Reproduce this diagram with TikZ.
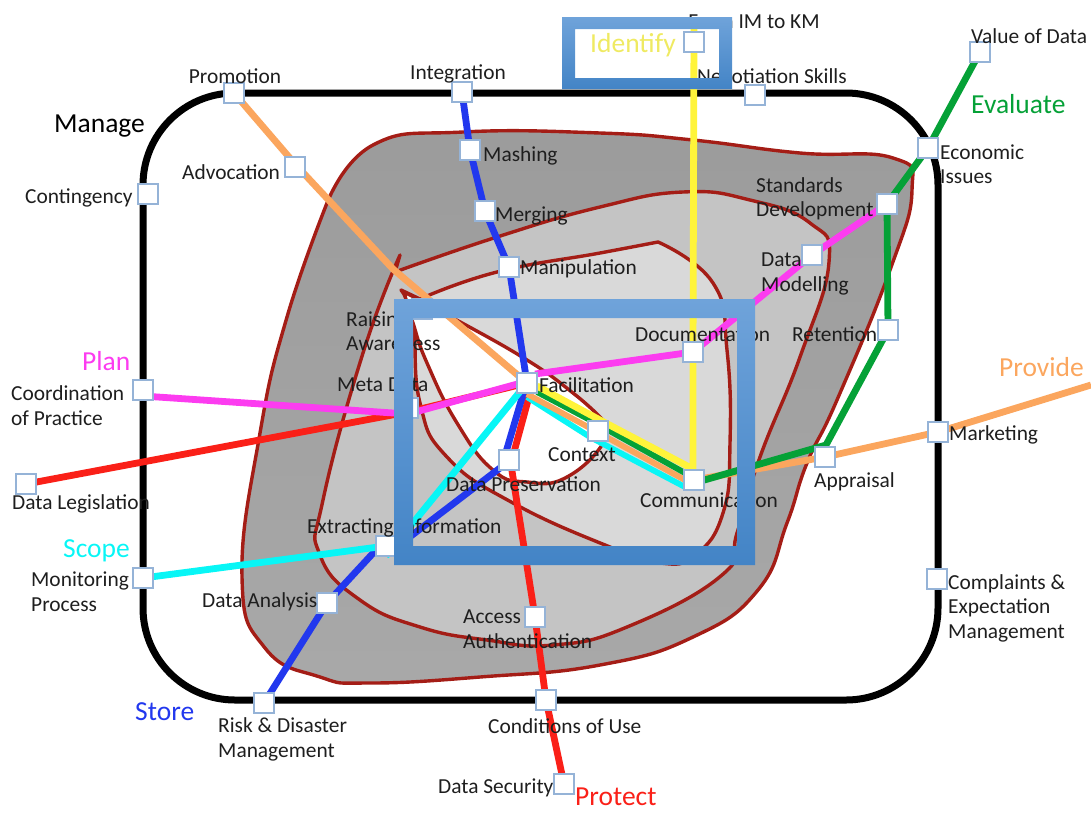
\documentclass[tikz,border=0pt]{standalone}
\usepackage{fontspec}
\setmainfont{Carlito}
\usetikzlibrary{calc}
\pgfdeclarelayer{back}
\pgfdeclarelayer{wires}
\pgfsetlayers{back,wires,main}
\definecolor{rim}{HTML}{A41D16}
\definecolor{sqb}{HTML}{95B3D7}
\definecolor{fa}{HTML}{6FA3DA}
\definecolor{fb}{HTML}{4384C6}
\definecolor{cor}{HTML}{FBA65E}
\definecolor{cye}{HTML}{FFF43A}
\definecolor{cid}{HTML}{EFEA62}
\definecolor{cgr}{HTML}{05A137}
\definecolor{cma}{HTML}{FC3CF0}
\definecolor{cre}{HTML}{FA2018}
\definecolor{cbl}{HTML}{2238EE}
\definecolor{ccy}{HTML}{08F6F6}
\definecolor{txt}{HTML}{1E1E1E}
\tikzset{
  sq/.style={draw=sqb,fill=white,line width=1.2pt,minimum size=20pt,inner sep=0pt,outer sep=0pt},
  lab/.style={anchor=west,inner sep=0pt,text=txt,font=\fontsize{21.4}{24.5}\selectfont,align=left},
  captxt/.style={anchor=west,inner sep=0pt,font=\fontsize{27.5}{30}\selectfont},
  region/.style={draw=rim,line width=3.4pt,line join=round},
  rc/.style={smooth,tension=.8},
  conn/.style={line width=6.8pt,line join=round},
  bundle/.style={line width=5.8pt,line join=round},
  frameb/.style={even odd rule,top color=fa,bottom color=fb,draw=none}
}
\begin{document}
\begin{tikzpicture}[x=1pt,y=-1pt]
\useasboundingbox (0,0) rectangle (1091,812);
\begin{pgfonlayer}{back}
\draw[region,top color=black!39,bottom color=black!34] plot[rc] coordinates {
 (327,203)(373,145)(463,132)(600,133)(693,140)(800,153)(893,158)(912,190)(890,270)(837,400)(807,463)(787,523)(758,590)(693,637)(600,665)(480,677)(370,683)(320,677)(265,648)(242,577)(260,433)(287,317)(327,203)} -- cycle;
\draw[region,fill=black!23] plot[rc] coordinates {
 (395,272)(497,237)(600,207)(683,192)(750,200)(810,223)(829,262)(800,357)(760,457)(737,533)(722,575)(627,627)(553,645)(487,640)(420,627)(360,600)(320,555)(323,500)(363,353)(400,255)} -- cycle;
\draw[region,fill=black!15] plot[rc] coordinates {(420,299)(497,272)(600,253)(658,242)} -- plot[rc] coordinates {(658,242)(713,283)(727,350)(730,443)(723,513)(695,555)(660,563)(610,547)(513,503)(447,457)(420,403)(413,323)(401,290)} -- cycle;
\draw[region,fill=white] plot[rc] coordinates {(404,292)(453,318)(527,360)(573,393)(600,417)} -- plot[rc] coordinates {(600,417)(605,440)(567,477)(527,482)(493,470)(457,423)(427,363)(413,323)(404,292)} -- cycle;
\node[draw=black,line width=7pt,rounded corners=92pt,minimum width=795pt,minimum height=607pt,inner sep=0pt] (box) at (540.5,396.5) {};
\end{pgfonlayer}
% squares
\node[sq] (prom) at (234,93) {};
\node[sq] (integ) at (462,92) {};
\node[sq] (nego) at (755,95) {};
\node[sq] (valu) at (980,52) {};
\node[sq] (econ) at (928,148) {};
\node[sq] (advo) at (295,167) {};
\node[sq] (mash) at (470,150) {};
\node[sq] (merg) at (485,211) {};
\node[sq] (mani) at (509,267) {};
\node[sq] (stan) at (887,204) {};
\node[sq] (dmod) at (812,255) {};
\node[sq] (rete) at (888,330) {};
\node[sq] (docu) at (693,352) {};
\node[sq] (rais) at (422,309) {};
\node[sq] (meta) at (408,408) {};
\node[sq] (faci) at (527,383) {};
\node[sq] (ctxt) at (598,431) {};
\node[sq] (comm) at (694,480) {};
\node[sq] (pres) at (509,460) {};
\node[sq] (extr) at (386,546) {};
\node[sq] (anal) at (327,603) {};
\node[sq] (risk) at (264,703) {};
\node[sq] (cond) at (546,700) {};
\node[sq] (secu) at (564,784) {};
\node[sq] (acce) at (535,617) {};
\node[sq] (appr) at (825,457) {};
\node[sq] (mark) at (938,432) {};
\node[sq] (comp) at (937,579) {};
\node[sq] (moni) at (143,578) {};
\node[sq] (legi) at (26,484) {};
\node[sq] (coor) at (143,390) {};
\node[sq] (cont) at (148,194) {};
\coordinate (idn) at (694,42);
\coordinate (obend) at (393,269);
\coordinate (oend) at (1091,385);
% connectors
\begin{pgfonlayer}{wires}
\draw[conn,cre] (legi.center) -- ([yshift=-4]meta.center) -- (faci.center);
\draw[conn,cre] ([shift={(3,10)}]faci.center) -- ([shift={(5,-8)}]pres.center);
\draw[conn,cre] ([yshift=8]pres.center) -- (acce.center) -- (cond.center) -- (secu.center);
\draw[conn,cma] ([yshift=-6]coor.center) -- ([yshift=-6]meta.center) -- ([shift={(-6,0)}]faci.center);
\draw[conn,cma] ([shift={(8,-9)}]faci.center) -- (docu.center) -- (dmod.center) -- (stan.center);
\draw[conn,cbl] (integ.center) -- (mash.center) -- (merg.center) -- (mani.center) -- (faci.center);
\draw[conn,cbl] ([shift={(-3,8)}]faci.center) -- ([shift={(-3,-8)}]pres.center);
\draw[conn,cbl] ([shift={(-9,8)}]pres.center) -- ([yshift=-9]extr.center);
\draw[conn,cbl] ([shift={(-10,4)}]extr.center) -- (anal.center) -- (risk.center);
\draw[conn,ccy] (moni.center) -- (extr.center);
\draw[conn,ccy] ([yshift=-10]extr.center) -- (faci.center);
\draw[bundle,ccy] ([shift={(0,14)}]faci.center) -- ([shift={(-8,6)}]ctxt.center) -- ([shift={(-9,7)}]comm.center);
\draw[conn,cor] (prom.center) -- ([yshift=3]advo.center) -- (obend) -- (faci.center);
\draw[bundle,cor] ([shift={(0,11)}]faci.center) -- ([shift={(-10,-4)}]ctxt.center) -- ([shift={(-9,0)}]comm.center);
\draw[conn,cor] (comm.center) -- (appr.center) -- (mark.center) -- (oend);
\draw[bundle,cgr] ([shift={(10,9)}]faci.center) -- ([shift={(-8,-11)}]ctxt.center) -- ([shift={(-9,-7)}]comm.center);
\draw[conn,cgr] (valu.center) -- (econ.center) -- (stan.center) -- (rete.center) -- ([shift={(1,-12)}]appr.center) -- ([yshift=-3]comm.center);
\draw[conn,cye] ([yshift=15]idn) -- (docu.center) -- ([shift={(-1,-11)}]comm.center) -- ([shift={(2,-11)}]ctxt.center) -- ([shift={(10,3)}]faci.center);
\end{pgfonlayer}
% labels
\node[lab,anchor=center] (l1) at (235,76) {Promotion};
\node[lab,anchor=center] (l2) at (458,74) {Integration};
\node[lab,anchor=center] (l3) at (754,22) {From IM to KM};
\node[lab,anchor=center] (l4) at (772,78) {Negotiation Skills};
\node[lab] (l5) at (971,36) {Value of Data};
\node[lab] (l6) at (940,164) {Economic\\Issues};
\node[lab] (l7) at (25,198) {Contingency};
\node[lab] (l8) at (182,172) {Advocation};
\node[lab] (l9) at (483,156) {Mashing};
\node[lab] (l10) at (495,216) {Merging};
\node[lab] (l11) at (520,269) {Manipulation};
\node[lab] (l12) at (756,199) {Standards\\Development};
\node[lab] (l13) at (761,274) {Data\\Modelling};
\node[lab] (l14) at (792,334) {Retention};
\node[lab] (l15) at (635,334) {Documentation};
\node[lab] (l16) at (346,331) {Raising\\Awareness};
\node[lab] (l17) at (337,385) {Meta Data};
\node[lab] (l18) at (539,385) {Facilitation};
\node[lab] (l19) at (548,455) {Context};
\node[lab] (l20) at (446,484) {Data Preservation};
\node[lab] (l21) at (640,500) {Communication};
\node[lab] (l22) at (814,482) {Appraisal};
\node[lab] (l23) at (949,435) {Marketing};
\node[lab] (l24) at (948,608) {Complaints \&\\Expectation\\Management};
\node[lab] (l25) at (307,528) {Extracting Information};
\node[lab] (l26) at (202,602) {Data Analysis};
\node[lab] (l27) at (31,591.5) {Monitoring\\Process};
\node[lab] (l28) at (11,405.5) {Coordination\\of Practice};
\node[lab] (l29) at (12,504) {Data Legislation};
\node[lab] (l30) at (218,739.5) {Risk \& Disaster\\Management};
\node[lab] (l31) at (488,726) {Conditions of Use};
\node[lab] (l32) at (463,629) {Access\\Authentication};
\node[lab] (l33) at (438,788) {Data Security};
% coloured captions
\node[captxt,text=black] (c0) at (54,126) {Manage};
\node[captxt,text=cma] (c1) at (82,361) {Plan};
\node[captxt,text=ccy] (c2) at (63,551) {Scope};
\node[captxt,text=cbl] (c3) at (135,712) {Store};
\node[captxt,text=cre] (c4) at (575,797) {Protect};
\node[captxt,text=cor] (c5) at (999,367) {Provide};
\node[captxt,text=cgr] (c6) at (971,104) {Evaluate};
% frames
\path[frameb] (394,299) rectangle (755,565) (413,318) rectangle (737,546);
\path[frameb] (562,17) rectangle (732,89) (575,29) rectangle (719,78);
\node[captxt,text=cid] (c7) at (590,45) {Identify};
\node[sq] (idnsq) at (idn) {};
\end{tikzpicture}
\end{document}
